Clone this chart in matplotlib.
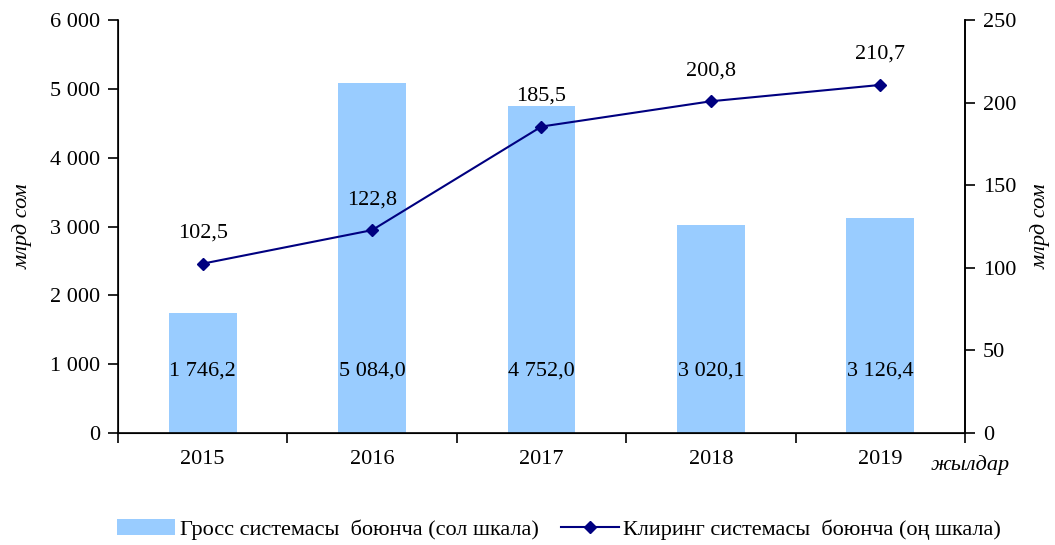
import numpy as np
import matplotlib
matplotlib.use("Agg")
import matplotlib.pyplot as plt
from matplotlib.patches import Patch
from matplotlib.lines import Line2D

plt.rcParams.update({"font.family": "Liberation Serif", "font.size": 16})

years = ["2015", "2016", "2017", "2018", "2019"]
gross = [1746.2, 5084.0, 4752.0, 3020.1, 3126.4]
clearing = [102.5, 122.8, 185.5, 200.8, 210.7]
gross_labels = ["1 746,2", "5 084,0", "4 752,0", "3 020,1", "3 126,4"]
clearing_labels = ["102,5", "122,8", "185,5", "200,8", "210,7"]
left_ticks = [0, 1000, 2000, 3000, 4000, 5000, 6000]
left_ticklabels = ["0", "1 000", "2 000", "3 000", "4 000", "5 000", "6 000"]
right_ticks = [0, 50, 100, 150, 200, 250]

BAR = "#99ccff"
LINE = "#000080"

fig = plt.figure(figsize=(10.55, 5.45), dpi=100)
ax = fig.add_axes([0.1118, 0.2055, 0.8029, 0.7578])
x = np.arange(len(years))

ax.bar(x, gross, width=0.4, color=BAR, zorder=2)
for xi, lab in zip(x, gross_labels):
    ax.text(xi, 900, lab, ha="center", va="center", zorder=3)

ax.set_xlim(-0.5, 4.5)
ax.set_ylim(0, 6000)
ax.set_yticks(left_ticks)
ax.set_yticklabels(left_ticklabels)
ax.set_xticks(x)
ax.set_xticklabels(years)
ax.set_xticks(np.arange(-0.5, 5, 1), minor=True)
ax.tick_params(axis="x", which="major", length=0, pad=12)
ax.tick_params(axis="x", which="minor", length=7, width=1.2, direction="out")
ax.tick_params(axis="y", length=7, width=1.2, direction="out", pad=6)
ax.spines["top"].set_visible(False)
for s in ("left", "bottom", "right"):
    ax.spines[s].set_linewidth(1.2)
ax.set_ylabel("млрд сом", style="italic", labelpad=12)

ax2 = ax.twinx()
ax2.plot(x, clearing, color=LINE, lw=1.5, marker="D", markersize=6, zorder=4)
for xi, v, lab in zip(x, clearing, clearing_labels):
    ax2.annotate(lab, (xi, v), xytext=(0, 22), textcoords="offset points",
                 ha="center", va="center")
ax2.set_ylim(0, 250)
ax2.set_yticks(right_ticks)
ax2.tick_params(axis="y", length=7, width=1.2, direction="out", pad=6)
ax2.spines["top"].set_visible(False)
ax2.spines["right"].set_linewidth(1.2)
ax2.set_ylabel("млрд сом", style="italic", rotation=90, labelpad=10)

fig.text(0.882, 0.147, "жылдар", style="italic", ha="left", va="center")

handles = [Patch(facecolor=BAR, edgecolor="none"),
           Line2D([0], [0], color=LINE, lw=1.5, marker="D", markersize=6)]
labels = ["Гросс системасы  боюнча (сол шкала)", "Клиринг системасы  боюнча (оң шкала)"]
fig.legend(handles, labels, loc="center", bbox_to_anchor=(0.53, 0.028), ncol=2,
           frameon=False, handlelength=2.6, columnspacing=1.0,
           handletextpad=0.2)

fig.savefig("out.png", dpi=100)
